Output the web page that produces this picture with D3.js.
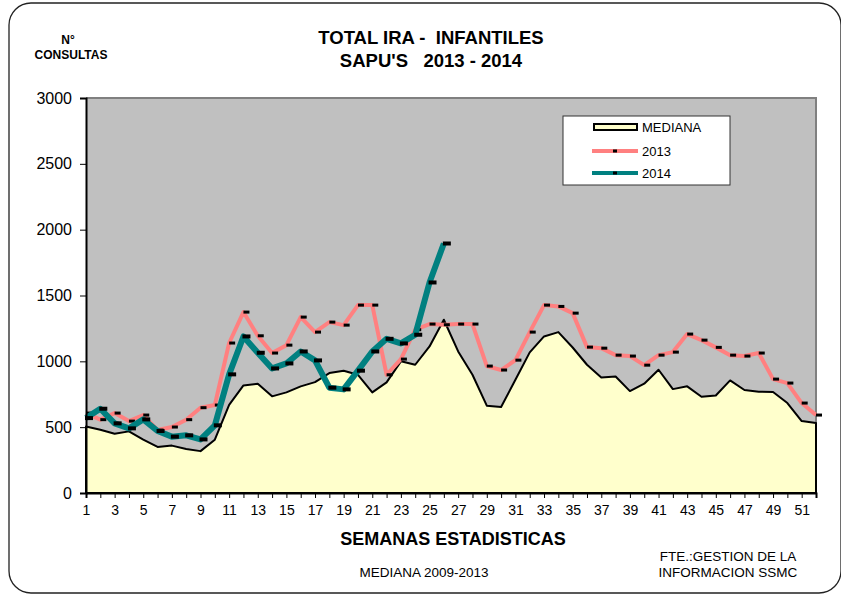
<!DOCTYPE html>
<html>
<head>
<meta charset="utf-8">
<script src="https://cdn.jsdelivr.net/npm/d3@7"></script>
<style>
body { margin: 0; background: #fff; }
svg { font-family: "Liberation Sans", Arial, sans-serif; }
</style>
</head>
<body>
<script>
// weeks 1..52
var weeks = d3.range(1, 53);

// mediana 2009-2013
var mediana = [505, 480, 450, 468, 405, 350, 360, 334, 318, 405,
               670, 817, 830, 734, 764, 810, 842, 911, 929, 898,
               764, 840, 1000, 974, 1113, 1316, 1075, 898, 663, 653,
               860, 1068, 1189, 1222, 1105, 974, 878, 885, 774, 830,
               936, 789, 810, 731, 741, 855, 782, 769, 767, 683,
               546, 531];

// 2013
var y2013 = [607, 557, 607, 546, 592, 478, 501, 557, 648, 668,
             1139, 1374, 1194, 1063, 1123, 1336, 1222, 1298, 1275, 1427,
             1427, 898, 1017, 1240, 1283, 1278, 1283, 1283, 964, 934,
             1009, 1222, 1427, 1417, 1366, 1108, 1100, 1047, 1040, 971,
             1047, 1070, 1207, 1161, 1106, 1047, 1040, 1063, 865, 835,
             683, 592];

// 2014 (hasta semana 26)
var y2014 = [569, 640, 529, 491, 559, 471, 428, 438, 407, 514,
             901, 1189, 1065, 946, 984, 1075, 1007, 800, 787, 929,
             1075, 1171, 1136, 1202, 1599, 1895];

var yTicks = [0, 500, 1000, 1500, 2000, 2500, 3000];

var w = 841;
var h = 596;
var pLeft = 86, pRight = 816, pTop = 98, pBottom = 493;

var svg = d3.select("body")
			.append("svg")
			.attr("width", w)
			.attr("height", h);

// outer frame
svg.append("rect")
	.attr("x", 9).attr("y", 3)
	.attr("width", 832).attr("height", 590)
	.attr("rx", 22).attr("ry", 22)
	.attr("fill", "#fff")
	.attr("stroke", "#222")
	.attr("stroke-width", 1.3);

var xScale = d3.scaleLinear()
					.domain([1, 52])
					.range([pLeft, pRight]);

var yScale = d3.scaleLinear()
					.domain([0, 3000])
					.range([pBottom, pTop]);

// plot background
svg.append("rect")
	.attr("x", pLeft).attr("y", pTop)
	.attr("width", pRight - pLeft).attr("height", pBottom - pTop)
	.attr("fill", "#c0c0c0");
svg.append("path")
	.attr("d", "M" + pLeft + "," + pTop + "H" + pRight + "V" + pBottom)
	.attr("fill", "none")
	.attr("stroke", "#808080")
	.attr("stroke-width", 2);

// mediana area
var area = d3.area()
	.x(function(d, i){ return xScale(weeks[i]); })
	.y0(yScale(0))
	.y1(function(d){ return yScale(d); });

svg.append("path")
	.datum(mediana)
	.attr("d", area)
	.attr("fill", "#ffffcc")
	.attr("stroke", "#000")
	.attr("stroke-width", 2)
	.attr("stroke-linejoin", "round");

var line = d3.line()
	.x(function(d, i){ return xScale(weeks[i]); })
	.y(function(d){ return yScale(d); });

function drawSeries(data, color, width, mw, mh){
	svg.append("path")
		.datum(data)
		.attr("d", line)
		.attr("fill", "none")
		.attr("stroke", color)
		.attr("stroke-width", width)
		.attr("stroke-linejoin", "round");
	svg.append("g")
		.selectAll("rect")
		.data(data)
		.enter()
		.append("rect")
		.attr("x", function(d, i){ return xScale(weeks[i]) + 3 - mw / 2; })
		.attr("y", function(d){ return yScale(d) - mh / 2; })
		.attr("width", mw)
		.attr("height", mh)
		.attr("fill", "#000");
}

drawSeries(y2013, "#ff8080", 4, 6, 3);
drawSeries(y2014, "#008080", 6, 8, 4);

// axes
var yAxis = d3.axisLeft(yScale)
	.tickValues(yTicks)
	.tickSize(6)
	.tickPadding(8)
	.tickFormat(d3.format("d"));
var gy = svg.append("g")
	.attr("transform", "translate(" + pLeft + ",0)")
	.call(yAxis);
gy.select(".domain").attr("stroke-width", 2);
gy.selectAll("text").attr("font-size", 16).attr("fill", "#000").attr("font-family", "Liberation Sans, Arial");

var xAxis = d3.axisBottom(xScale)
	.tickValues(weeks)
	.tickSize(5)
	.tickPadding(7)
	.tickFormat(function(d){ return d % 2 === 1 ? d : ""; });
var gx = svg.append("g")
	.attr("transform", "translate(0," + pBottom + ")")
	.call(xAxis);
gx.select(".domain").attr("stroke-width", 2);
gx.selectAll("text").attr("font-size", 14).attr("fill", "#000").attr("font-family", "Liberation Sans, Arial");

// titles
function label(x, y, txt, size, bold, anchor){
	svg.append("text")
		.attr("x", x).attr("y", y)
		.attr("text-anchor", anchor || "middle")
		.attr("font-size", size)
		.attr("font-weight", bold ? "bold" : "normal")
		.text(txt);
}
label(431, 44, "TOTAL IRA -\u00a0\u00a0INFANTILES", 18.5, true);
label(431, 67, "SAPU'S\u00a0\u00a0\u00a02013 - 2014", 18.5, true);
label(68, 44, "N°", 12, true);
label(71, 59, "CONSULTAS", 12, true);
label(453, 545, "SEMANAS ESTADISTICAS", 18, true);
label(424, 577, "MEDIANA 2009-2013", 13.5, false);
label(728, 561, "FTE.:GESTION DE LA", 13.5, false);
label(728, 577, "INFORMACION SSMC", 13.5, false);

// legend
var lg = svg.append("g");
lg.append("rect")
	.attr("x", 563).attr("y", 116)
	.attr("width", 167).attr("height", 69)
	.attr("fill", "#fff")
	.attr("stroke", "#333")
	.attr("stroke-width", 1);
lg.append("rect")
	.attr("x", 594).attr("y", 124)
	.attr("width", 43).attr("height", 6)
	.attr("fill", "#ffffcc")
	.attr("stroke", "#000")
	.attr("stroke-width", 2);
var legItems = [["2013", "#ff8080", 4, 151], ["2014", "#008080", 4, 173]];
legItems.forEach(function(it){
	lg.append("line")
		.attr("x1", 592).attr("x2", 638)
		.attr("y1", it[3]).attr("y2", it[3])
		.attr("stroke", it[1]).attr("stroke-width", it[2]);
	lg.append("rect")
		.attr("x", 613).attr("y", it[3] - 1.5)
		.attr("width", 4).attr("height", 3)
		.attr("fill", "#000");
	lg.append("text")
		.attr("x", 642).attr("y", it[3] + 5)
		.attr("font-size", 13)
		.text(it[0]);
});
lg.append("text")
	.attr("x", 642).attr("y", 132)
	.attr("font-size", 13)
	.text("MEDIANA");
</script>
</body>
</html>
